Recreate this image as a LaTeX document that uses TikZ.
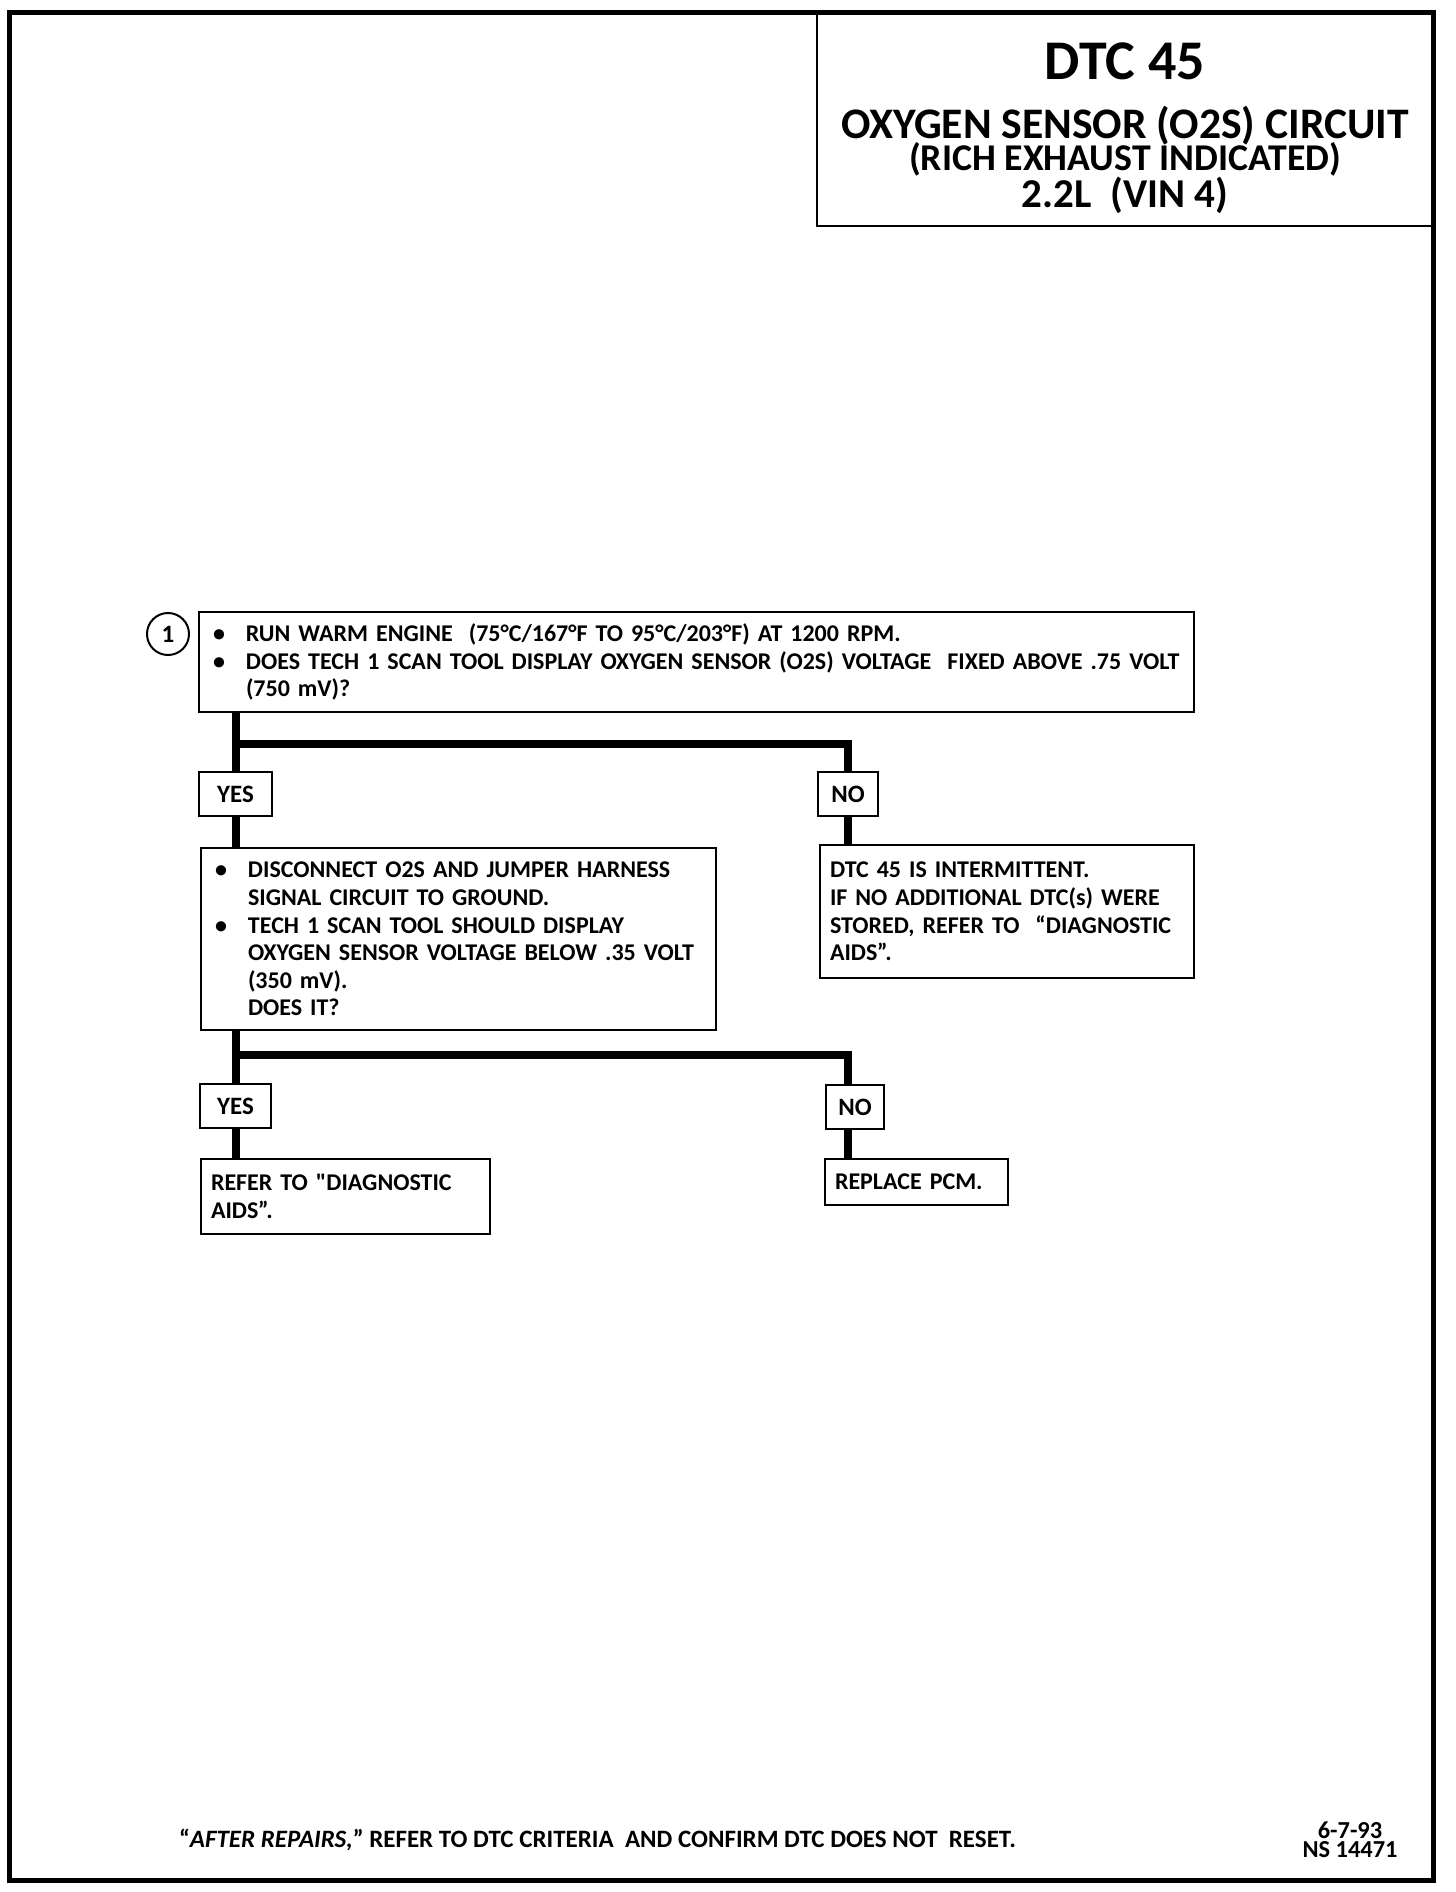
\documentclass[tikz,border=0pt]{standalone}
\usepackage{fontspec}
\setmainfont{Carlito}
\usetikzlibrary{positioning,calc}

\newcommand{\bul}{\makebox[18.5pt][l]{\hspace{2pt}\textbullet}}
\newcommand{\ind}{\hspace*{18.5pt}}

\tikzset{
  stepbox/.style={draw, line width=1pt, align=left, anchor=north west,
    inner xsep=5pt, inner ysep=0pt,
    font=\bfseries\fontsize{12}{13.8}\selectfont},
  answer/.style={draw, line width=1pt, inner sep=0pt, minimum height=22pt,
    font=\bfseries\fontsize{12.5}{12}\selectfont},
  trunk/.style={line width=4pt},
  title/.style={inner sep=0pt, text depth=0pt, font=\bfseries\fontsize{#1}{#1}\selectfont}
}

\begin{document}
\begin{tikzpicture}[x=0.5pt,y=-0.5pt]
  \useasboundingbox (0,0) rectangle (1456,1892);

  % page frame and title block
  \draw[line width=2.5pt] (9,12) rectangle (1433,1880);
  \draw[line width=1.4pt] (817,12) -- (817,226) -- (1433,226);
  \node[title=28, text height=18pt] (ttl1) at (1125,61) {DTC 45};
  \node[title=21.8, text height=14pt] (ttl2) at (1125,124) {OXYGEN SENSOR (O2S) CIRCUIT};
  \node[title=18.9, text height=12.2pt] (ttl3) at (1125,158) {(RICH EXHAUST INDICATED)};
  \node[title=20.5, text height=13.2pt] (ttl4) at (1125,194) {2.2L\ \ (VIN 4)};

  % step 1
  \node[circle, draw, line width=1pt, minimum size=21pt, inner sep=0pt,
    font=\bfseries\fontsize{12.5}{12}\selectfont] (c1) at (168,634) {1};
  \node[stepbox, text width=487.5pt, minimum height=50pt] (b1) at (198,611)
    {\bul RUN WARM ENGINE\ \ (75°C/167°F TO 95°C/203°F) AT 1200 RPM.\\
     \bul DOES TECH 1 SCAN TOOL DISPLAY OXYGEN SENSOR (O2S) VOLTAGE\ \ FIXED ABOVE .75 VOLT\\
     \ind (750 mV)?};

  \node[answer, minimum width=36.5pt] (yes1) at (235.5,794) {YES};
  \node[answer, minimum width=30pt] (no1) at (848,794) {NO};

  \node[stepbox, text width=247.5pt, minimum height=91pt] (b2) at (200,847)
    {\bul DISCONNECT O2S AND JUMPER HARNESS\\
     \ind SIGNAL CIRCUIT TO GROUND.\\
     \bul TECH 1 SCAN TOOL SHOULD DISPLAY\\
     \ind OXYGEN SENSOR VOLTAGE BELOW .35 VOLT\\
     \ind (350 mV).\\
     \ind DOES IT?};
  \node[stepbox, text width=177pt, minimum height=66.5pt] (b3) at (819,844)
    {DTC 45 IS INTERMITTENT.\\
     IF NO ADDITIONAL DTC(s) WERE\\
     STORED, REFER TO\ \ “DIAGNOSTIC\\
     AIDS”.};

  \node[answer, minimum width=35.5pt] (yes2) at (235.5,1106) {YES};
  \node[answer, minimum width=29pt] (no2) at (855,1107) {NO};

  \node[stepbox, text width=134.5pt, minimum height=37.5pt] (b4) at (200,1158)
    {REFER TO \textquotedbl DIAGNOSTIC\\
     AIDS”.};
  \node[stepbox, text width=81.5pt, minimum height=23pt] (b5) at (824,1158)
    {REPLACE PCM.};

  % branches
  \coordinate (fork1) at (235.5,744);
  \coordinate (fork2) at (235.5,1055);
  \coordinate (turn2) at (848,1055);
  \draw[trunk] (yes1.north |- b1.south) -- (yes1.north);
  \draw[trunk] (yes1.south) -- (yes1.south |- b2.north);
  \draw[trunk] (fork1) -| (no1.north);
  \draw[trunk] (no1.south) -- (no1.south |- b3.north);
  \draw[trunk] (yes2.north |- b2.south) -- (yes2.north);
  \draw[trunk] (yes2.south) -- (yes2.south |- b4.north);
  \draw[trunk] (fork2) -- (turn2) -- (turn2 |- no2.north);
  \draw[trunk] (turn2 |- no2.south) -- (turn2 |- b5.north);

  % footer
  \node[anchor=west, font=\bfseries\fontsize{12.5}{12}\selectfont] (foot) at (172,1840)
    {“\textit{AFTER REPAIRS,}” REFER TO DTC CRITERIA\ \ AND CONFIRM DTC DOES NOT\ \ RESET.};
  \node[title=12.2, text height=7.9pt] (date) at (1350,1831) {6-7-93};
  \node[title=12.2, text height=7.9pt] (drw) at (1350,1850) {NS 14471};
\end{tikzpicture}
\end{document}
